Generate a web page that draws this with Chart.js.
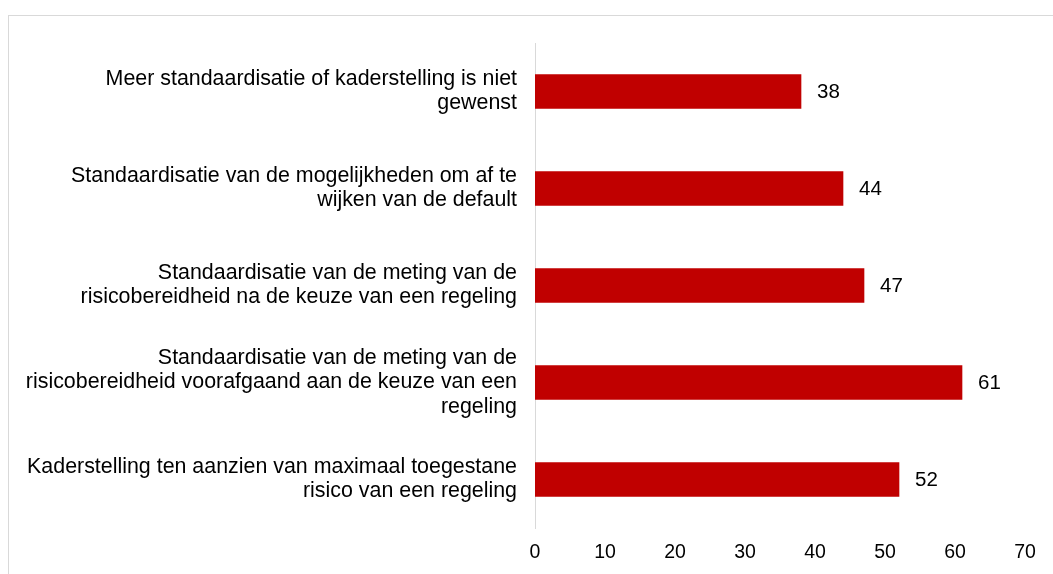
<!DOCTYPE html>
<html>
<head>
<meta charset="utf-8">
<script src="https://cdn.jsdelivr.net/npm/chart.js@4"></script>
<style>
  html, body { margin: 0; padding: 0; background: #fff; overflow: hidden; }
  #frame { position: absolute; left: 8px; top: 15px; width: 1200px; height: 700px;
           border-top: 1px solid #d9d9d9; border-left: 1px solid #d9d9d9; }
  #wrap { position: absolute; left: 0; top: 0; width: 1053px; height: 574px; }
</style>
</head>
<body>
<div id="frame"></div>
<div id="wrap"><canvas id="myChart" width="1053" height="574"></canvas></div>
<script>
const labels = [
  ['Meer standaardisatie of kaderstelling is niet', 'gewenst'],
  ['Standaardisatie van de mogelijkheden om af te', 'wijken van de default'],
  ['Standaardisatie van de meting van de', 'risicobereidheid na de keuze van een regeling'],
  ['Standaardisatie van de meting van de', 'risicobereidheid voorafgaand aan de keuze van een', 'regeling'],
  ['Kaderstelling ten aanzien van maximaal toegestane', 'risico van een regeling']
]
const values = [38, 44, 47, 61, 52]
const xTicks = [0, 10, 20, 30, 40, 50, 60, 70]

const ctx = document.getElementById('myChart');
const FONT = '"Liberation Sans", Arial, sans-serif';

// value labels at the bar ends
const barLabels = {
  id: 'barLabels',
  afterDatasetsDraw(chart) {
    const c = chart.ctx;
    const meta = chart.getDatasetMeta(0);
    c.save();
    c.font = '20.5px ' + FONT;
    c.fillStyle = '#000';
    c.textAlign = 'left';
    c.textBaseline = 'middle';
    meta.data.forEach((bar, i) => {
      c.fillText(values[i], bar.x + 16, bar.y + 1);
    });
    c.restore();
  }
};

const config = {
  type: 'bar',
  data: {
    labels: labels,
    datasets: [{
      data: values,
      backgroundColor: '#c00000',
      barThickness: 34
    }]
  },
  options: {
    indexAxis: 'y',
    responsive: false,
    animation: false,
    layout: { padding: { top: 43, right: 28, left: 0, bottom: 0 } },
    plugins: {
      legend: { display: false },
      tooltip: { enabled: false }
    },
    scales: {
      x: {
        min: 0,
        max: 70,
        afterBuildTicks(axis) { axis.ticks = xTicks.map(v => ({ value: v })); },
        afterFit(axis) { axis.height = 46; },
        grid: { display: false, drawTicks: false },
        border: { display: false },
        ticks: {
          padding: 13,
          color: '#000',
          font: { family: FONT, size: 19.5 }
        }
      },
      y: {
        afterFit(axis) { axis.width = 535; },
        grid: { display: false, drawTicks: false },
        border: { display: true, color: '#d9d9d9', width: 1 },
        ticks: {
          padding: 18,
          color: '#000',
          font: { family: FONT, size: 21.4, lineHeight: 1.13 }
        }
      }
    }
  },
  plugins: [barLabels]
};
let chart = new Chart(ctx, config);
</script>
</body>
</html>
